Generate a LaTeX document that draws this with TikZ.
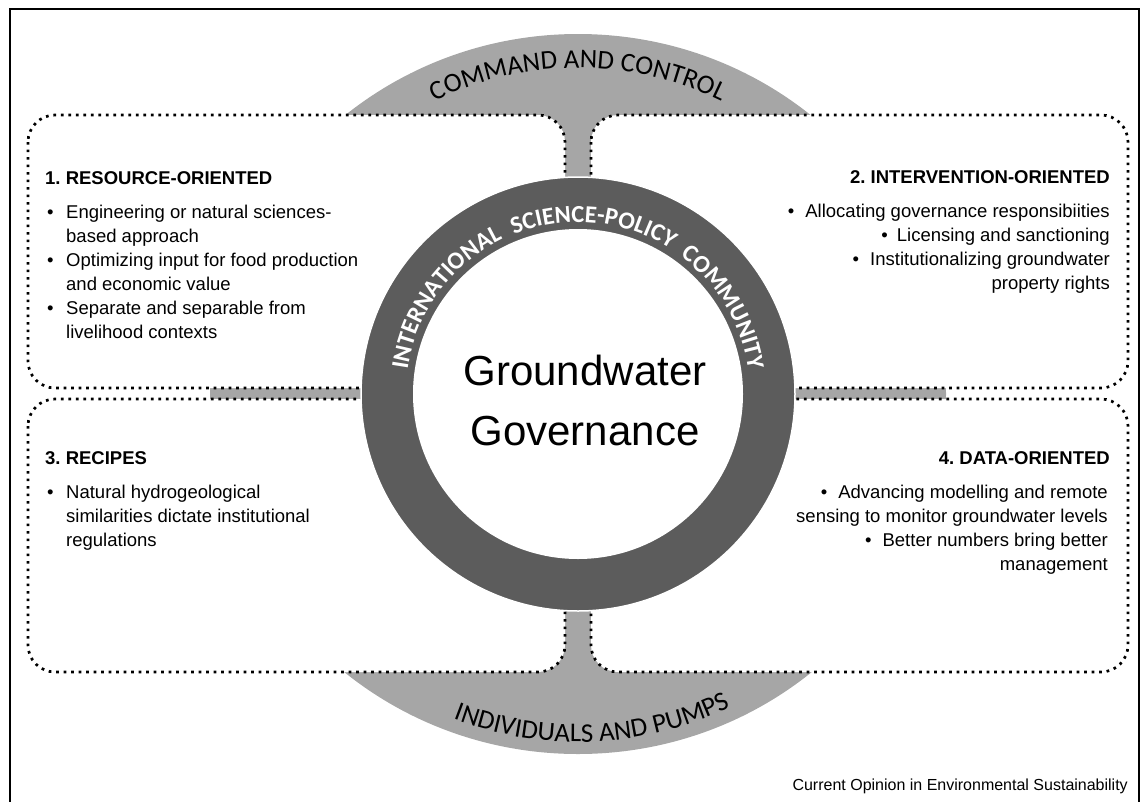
\documentclass[tikz,border=0pt]{standalone}
\usepackage{fontspec}
\setmainfont{Liberation Sans}
\newfontfamily\calfont{Carlito}
\usepackage{xcolor}
\usetikzlibrary{decorations.text}
\frenchspacing

\definecolor{domegray}{gray}{0.65}
\definecolor{ringgray}{gray}{0.36}
\newcommand{\ringfont}{\calfont\bfseries\fontsize{24.5}{28}\selectfont}
\newcommand{\domefont}{\calfont\fontsize{27}{30}\selectfont}

\tikzset{
  qbox/.style={fill=white, draw=black, line width=2.7pt, dash pattern=on 2.7pt off 4.8pt, rounded corners=27pt},
  qtitle/.style={font=\fontsize{18.5}{22}\selectfont\bfseries, inner sep=0pt},
  qitem/.style={font=\fontsize{18.5}{22}\selectfont, inner sep=0pt},
}

\begin{document}
\begin{tikzpicture}[x=1pt, y=-1pt]
\useasboundingbox (0,0) rectangle (1141,801);

%frame
\draw[line width=1.2pt] (10,9) rectangle (1139,830);

\coordinate (ctr) at (578,394);

%grey band behind the boxes
\fill[domegray] (ctr) ellipse [x radius=368, y radius=360];

%boxes
\draw[qbox] (28,115) rectangle (565,388);
\draw[qbox] (591,115) rectangle (1128,388);
\draw[qbox] (28,399) rectangle (565,672);
\draw[qbox] (591,399) rectangle (1128,672);

%ring
\node[circle, fill=ringgray, draw=white, line width=1.5pt, minimum size=434pt, inner sep=0pt] (ring) at (ctr) {};
\node[circle, fill=white, minimum size=330pt, inner sep=0pt] (core) at (ctr) {};
\node[font=\fontsize{42}{60}\selectfont, align=center, inner sep=0pt] (gg) at (585,400) {Groundwater\\Governance};

%curved labels
\path[decorate, decoration={text along path, text align=center,
  text={|\ringfont\color{white}|INTERNATIONAL{\hspace{12pt}}SCIENCE-POLICY{\hspace{12pt}}COMMUNITY}}]
  (ctr) ++(181:172) arc[start angle=181, end angle=359, radius=172];
\path[decorate, decoration={text along path, text align=center,
  text={|\domefont|COMMAND AND CONTROL}}]
  (ctr) ++(225:326) arc[start angle=225, end angle=315, radius=326];
\path[decorate, decoration={text along path, text align=center,
  text={|\domefont|INDIVIDUALS AND PUMPS}}]
  (ctr) ++(132.5:348) arc[start angle=132.5, end angle=42.5, radius=348];

%1
\node[qtitle, anchor=base west] (t1) at (45,184) {1. RESOURCE-ORIENTED};
\node[qitem, anchor=base west] (b11) at (47,218) {\textbullet};
\node[qitem, anchor=base west] (l11) at (66,218) {Engineering or natural sciences-};
\node[qitem, anchor=base west] (l12) at (66,242) {based approach};
\node[qitem, anchor=base west] (b12) at (47,266) {\textbullet};
\node[qitem, anchor=base west] (l13) at (66,266) {Optimizing input for food production};
\node[qitem, anchor=base west] (l14) at (66,290) {and economic value};
\node[qitem, anchor=base west] (b13) at (47,314) {\textbullet};
\node[qitem, anchor=base west] (l15) at (66,314) {Separate and separable from};
\node[qitem, anchor=base west] (l16) at (66,338) {livelihood contexts};

%2
\node[qtitle, anchor=base east] (t2) at (1110,183) {2. INTERVENTION-ORIENTED};
\node[qitem, anchor=base east] (l21) at (1110,217) {\textbullet\hspace{11pt}Allocating governance responsibiities};
\node[qitem, anchor=base east] (l22) at (1110,241) {\textbullet\hspace{9pt}Licensing and sanctioning};
\node[qitem, anchor=base east] (l23) at (1110,265) {\textbullet\hspace{11pt}Institutionalizing groundwater};
\node[qitem, anchor=base east] (l24) at (1110,289) {property rights};

%3
\node[qtitle, anchor=base west] (t3) at (45,464) {3. RECIPES};
\node[qitem, anchor=base west] (b31) at (47,498) {\textbullet};
\node[qitem, anchor=base west] (l31) at (66,498) {Natural hydrogeological};
\node[qitem, anchor=base west] (l32) at (66,522) {similarities dictate institutional};
\node[qitem, anchor=base west] (l33) at (66,546) {regulations};

%4
\node[qtitle, anchor=base east] (t4) at (1110,464) {4. DATA-ORIENTED};
\node[qitem, anchor=base east] (l41) at (1108,498) {\textbullet\hspace{11pt}Advancing modelling and remote};
\node[qitem, anchor=base east] (l42) at (1108,522) {sensing to monitor groundwater levels};
\node[qitem, anchor=base east] (l43) at (1108,546) {\textbullet\hspace{11pt}Better numbers bring better};
\node[qitem, anchor=base east] (l44) at (1108,570) {management};

\node[font=\fontsize{16}{18}\selectfont, anchor=base east, inner sep=0pt] (src) at (1128,790) {Current Opinion in Environmental Sustainability};

\end{tikzpicture}
\end{document}
